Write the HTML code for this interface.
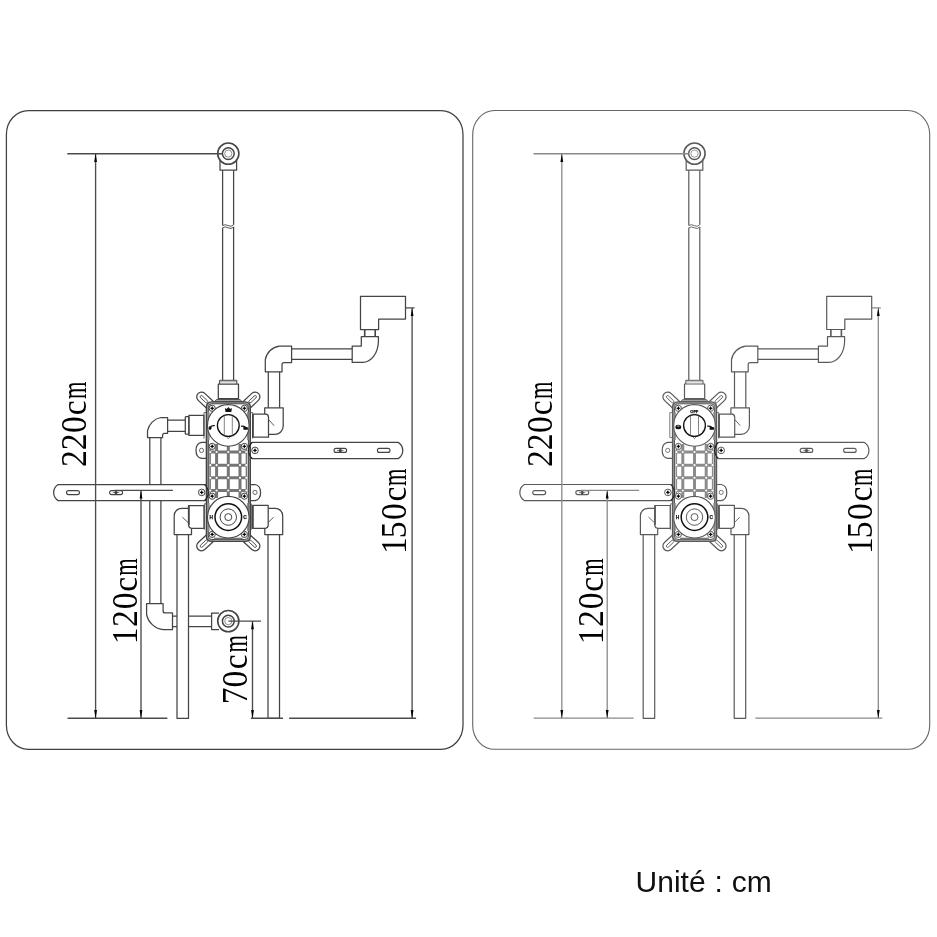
<!DOCTYPE html>
<html lang="fr">
<head>
<meta charset="utf-8">
<title>Unité : cm</title>
<style>
html,body{margin:0;padding:0;background:#fff;}
body{width:937px;height:937px;overflow:hidden;position:relative;}
svg{position:absolute;left:0;top:0;display:block;will-change:transform;}
.dim{font-family:"Liberation Serif","DejaVu Serif",serif;font-size:33.5px;fill:#000;}
.unit{position:absolute;left:635.6px;top:864.6px;word-spacing:0.6px;margin:0;font-family:"Liberation Sans","DejaVu Sans",sans-serif;font-size:30px;line-height:34px;color:#111;white-space:nowrap;}
</style>
</head>
<body>
<svg width="937" height="937" viewBox="0 0 937 937">
<rect x="0" y="0" width="937" height="937" fill="#fff"/>
<rect x="6.4" y="110.5" width="456.6" height="638.8" rx="22" ry="24" fill="none" stroke="#404040" stroke-width="1.25"/>
<rect x="472.7" y="110.5" width="457" height="638.8" rx="22" ry="24" fill="none" stroke="#666" stroke-width="1.1"/>
<g transform="translate(0,0)">
<g stroke="#444" stroke-width="1.25" fill="none" stroke-linejoin="round">
<path d="M220,160V170.2H236.6V160"/>
<circle cx="228.3" cy="153.6" r="10.6" stroke-width="1.6" fill="#fff"/>
<circle cx="228.3" cy="153.6" r="5.9" stroke-width="1.5"/>
<circle cx="228.3" cy="153.6" r="3.6" stroke-width="0.6"/>
<path d="M222.6,170.2V225.6 M233.6,170.2V224.8 M222.6,227.8V380 M233.6,227V380"/>
<path d="M222.6,225.6q2.5,-1.8 5.5,0t5.5,-0.8 M222.6,227.8q2.5,-1.8 5.5,0t5.5,-0.8" stroke-width="0.9"/>
<path d="M219.6,384V380.3H236.8V384" stroke-width="1"/>
<path d="M219.6,381.8H236.8" stroke-width="0.5"/>
<rect x="218.3" y="384" width="20.2" height="14.6"/>
<path d="M218,398.9H238.8" stroke-width="1.7"/>
<path d="M214.6,401.7L216.4,399.6H240.2L242,401.7Z" stroke-width="0.9" fill="#aaa"/>
<path d="M360.5,296.3H405.5V319.1H378.6V329.5H360.5Z"/>
<path d="M364.7,329.5V336.7 M375.2,329.5V336.7" stroke-width="1.6"/>
<path d="M361.3,336.7H378.4V341A15.8,21.4 0 0 1 362.6,362.4H352.2V346.1H361.3Z"/>
<path d="M291.6,348.8H352.2 M291.6,359.4H352.2"/>
<path d="M291.6,346.1H279.4A16.5,16.5 0 0 0 265.3,359.6V371.8H282V364.6Q282,362.6 284,362.6H291.6Z"/>
<path d="M268.3,371.8V407.8 M279.6,371.8V407.8"/>
<path d="M264.7,414.2V407.8H283.2V426A8.4,8.4 0 0 1 274.8,434.4H268.5"/>
<path d="M268.5,419.5L274.1,425.7" stroke-width="0.9"/>
<path d="M252.7,414.2H265.8Q268.5,414.4 268.5,417.4V437.2H252.7Z" fill="#fff"/>
<path d="M252.9,414.2V437.2" stroke-width="1.7"/>
<path d="M250.4,412.6H252.6V438.6"  stroke-width="0.8"/>
<path d="M252,442.4H398.2A9.5,9.5 0 0 1 398.2,458.6H252"/>
<rect x="377.4" y="448.4" width="12.6" height="4" rx="2" stroke-width="1.1"/>
<rect x="334" y="448.4" width="12.6" height="4" rx="2" stroke-width="1.1"/>
<circle cx="340.3" cy="450.4" r="1.5" fill="#333" stroke="none"/>
<path d="M337,450.4H343.6 M340.3,448V452.8" stroke-width="0.7"/>
<path d="M205,484.5H58.1A9.5,9.5 0 0 0 58.1,500.6H205"/>
<rect x="66.5" y="490.6" width="13" height="4" rx="2" stroke-width="1.1"/>
<rect x="109.6" y="490.6" width="13" height="4" rx="2" stroke-width="1.1"/>
<circle cx="116" cy="492.6" r="1.5" fill="#333" stroke="none"/>
<path d="M112.7,492.6H119.3 M116,490.2V495" stroke-width="0.7"/>
<path d="M188.5,508.3H181.6A7.4,7.4 0 0 0 174.2,515.7V534.6H191.5V528.3"/>
<path d="M177,534.6V718.3H188.5V534.6"/>
<path d="M182.3,517.1L188.5,522.9" stroke-width="0.9"/>
<path d="M204,505.5H188.6V525.3Q188.8,528.3 191.6,528.3H204Z" fill="#fff"/>
<path d="M188.8,505.5V525" stroke-width="1.8"/>
<path d="M206.2,503.8H204.4V529.8" stroke-width="0.8"/>
<path d="M268.3,508.3H275.3A7.4,7.4 0 0 1 282.7,515.7V534.6H264.8V528.3"/>
<path d="M268,534.6V718.3H279.5V534.6"/>
<path d="M273.6,517.1L268.3,522.4" stroke-width="0.9"/>
<path d="M252.6,505.4H268.2V525.3Q268,528.3 265.2,528.3H252.6Z" fill="#fff"/>
<path d="M252.8,505.4V528.3" stroke-width="1.8"/>
<path d="M250.4,503.8H251.4V529.8" stroke-width="0.8"/>
<path d="M147.5,437.6V430.8A17,17 0 0 1 160.8,417.5H167.6V433.3H164.4Q162.6,433.3 162.6,435.2V437.6Z"/>
<path d="M167.6,420.2H185.3 M167.6,431.3H185.3"/>
<path d="M149.8,437.6V484.5 M160.9,437.6V484.5 M149.8,500.6V603.5 M160.9,500.6V603.5"/>
<rect x="185.3" y="416.7" width="3.6" height="17.5" rx="0.8"/>
<rect x="188.9" y="415.4" width="15" height="20"/>
<path d="M206.2,412.6H204V438.6" stroke-width="0.8"/>
<path d="M146.6,603.5H163.1V610.9Q163.1,612.9 165.1,612.9H172.5V629.6H163.5A19,19 0 0 1 146.6,614.5Z"/>
<path d="M172.5,616.2H177 M172.5,626.5H177 M188.5,616.2H211.6 M188.5,626.5H211.6"/>
<path d="M219,613.1H211.6V629.6H219"/>
<circle cx="228.3" cy="621.1" r="10.6" stroke-width="1.6" fill="#fff"/>
<circle cx="228.3" cy="621.1" r="5.9" stroke-width="1.5"/>
<circle cx="228.3" cy="621.1" r="3.6" stroke-width="0.6"/>
<g transform="translate(201.5,396.9) rotate(43)"><path d="M14,-4.8H0A4.8,4.8 0 0 0 0,4.8H14" fill="#fff"/><rect x="-1.4" y="-1.25" width="9.4" height="2.5" rx="1.25" stroke-width="0.9"/></g>
<g transform="translate(255.1,396.9) rotate(137)"><path d="M14,-4.8H0A4.8,4.8 0 0 0 0,4.8H14" fill="#fff"/><rect x="-1.4" y="-1.25" width="9.4" height="2.5" rx="1.25" stroke-width="0.9"/></g>
<g transform="translate(201.5,546) rotate(-43)"><path d="M14,-4.8H0A4.8,4.8 0 0 0 0,4.8H14" fill="#fff"/><rect x="-1.4" y="-1.25" width="9.4" height="2.5" rx="1.25" stroke-width="0.9"/></g>
<g transform="translate(255.1,546) rotate(-137)"><path d="M14,-4.8H0A4.8,4.8 0 0 0 0,4.8H14" fill="#fff"/><rect x="-1.4" y="-1.25" width="9.4" height="2.5" rx="1.25" stroke-width="0.9"/></g>
<path d="M206.5,442.4H201.5Q196,443.5 196,450.4T201.5,458.4H206.5" fill="#fff"/>
<circle cx="201.5" cy="450.4" r="2.1" stroke-width="0.8"/>
<path d="M250,484.5H255Q260.6,485.6 260.6,492.4T255,500.6H250" fill="#fff"/>
<circle cx="255" cy="492.4" r="2.1" stroke-width="0.8"/>
<path d="M252,442.5Q249,443 248.5,447V454Q249,458 252,458.5" fill="#fff"/>
<path d="M205,484.5Q207.6,485 208,489V496Q207.6,500 205,500.6" fill="#fff"/>
<circle cx="255" cy="450.4" r="3.3" fill="#fff" stroke-width="1"/><circle cx="255" cy="450.4" r="1.1" fill="#000" stroke="none"/><path d="M253.1,450.4H256.9 M255,448.5V452.29999999999995" stroke="#000" stroke-width="0.9"/>
<circle cx="201.7" cy="492.4" r="3.3" fill="#fff" stroke-width="1"/><circle cx="201.7" cy="492.4" r="1.1" fill="#000" stroke="none"/><path d="M199.79999999999998,492.4H203.6 M201.7,490.5V494.29999999999995" stroke="#000" stroke-width="0.9"/>
<rect x="206.4" y="401.9" width="43.9" height="139.5" rx="5" fill="#a8a8a8" stroke-width="1.4"/>
<rect x="208.3" y="403.8" width="40.1" height="135.7" rx="3.6" fill="#fff" stroke-width="1"/>
<path d="M208.8,412V440 M247.9,412V440 M208.8,503V531 M247.9,503V531" stroke="#8a8a8a" stroke-width="1.6"/>
<path d="M214,538.6H242.6" stroke="#777" stroke-width="1.8"/>
<g stroke="#757575" stroke-width="3" fill="none">
<path d="M209.4,452H247.2 M209.4,465.2H247.2 M209.4,477.8H247.2 M209.4,490.5H247.2"/>
<path d="M216.6,444V498 M228.3,444V498 M240,444V498"/>
<path d="M210.1,449V494 M246.5,449V494" stroke-width="1.6"/>
</g>
<g fill="#fff" stroke="none">
<circle cx="210.3" cy="452" r="1.1"/>
<circle cx="216.6" cy="452" r="1.1"/>
<circle cx="228.3" cy="452" r="1.1"/>
<circle cx="240" cy="452" r="1.1"/>
<circle cx="246.3" cy="452" r="1.1"/>
<circle cx="210.3" cy="465.2" r="1.1"/>
<circle cx="216.6" cy="465.2" r="1.1"/>
<circle cx="228.3" cy="465.2" r="1.1"/>
<circle cx="240" cy="465.2" r="1.1"/>
<circle cx="246.3" cy="465.2" r="1.1"/>
<circle cx="210.3" cy="477.8" r="1.1"/>
<circle cx="216.6" cy="477.8" r="1.1"/>
<circle cx="228.3" cy="477.8" r="1.1"/>
<circle cx="240" cy="477.8" r="1.1"/>
<circle cx="246.3" cy="477.8" r="1.1"/>
<circle cx="210.3" cy="490.5" r="1.1"/>
<circle cx="216.6" cy="490.5" r="1.1"/>
<circle cx="228.3" cy="490.5" r="1.1"/>
<circle cx="240" cy="490.5" r="1.1"/>
<circle cx="246.3" cy="490.5" r="1.1"/>
</g>
<circle cx="212.2" cy="408.3" r="3.1" fill="#fff" stroke-width="1"/><circle cx="212.2" cy="408.3" r="1.1" fill="#000" stroke="none"/><path d="M210.29999999999998,408.3H214.1 M212.2,406.40000000000003V410.2" stroke="#000" stroke-width="0.9"/>
<circle cx="244.4" cy="408.3" r="3.1" fill="#fff" stroke-width="1"/><circle cx="244.4" cy="408.3" r="1.1" fill="#000" stroke="none"/><path d="M242.5,408.3H246.3 M244.4,406.40000000000003V410.2" stroke="#000" stroke-width="0.9"/>
<circle cx="212.2" cy="446.4" r="3.1" fill="#fff" stroke-width="1"/><circle cx="212.2" cy="446.4" r="1.1" fill="#000" stroke="none"/><path d="M210.29999999999998,446.4H214.1 M212.2,444.5V448.29999999999995" stroke="#000" stroke-width="0.9"/>
<circle cx="244.4" cy="446.4" r="3.1" fill="#fff" stroke-width="1"/><circle cx="244.4" cy="446.4" r="1.1" fill="#000" stroke="none"/><path d="M242.5,446.4H246.3 M244.4,444.5V448.29999999999995" stroke="#000" stroke-width="0.9"/>
<circle cx="212.2" cy="496.2" r="3.1" fill="#fff" stroke-width="1"/><circle cx="212.2" cy="496.2" r="1.1" fill="#000" stroke="none"/><path d="M210.29999999999998,496.2H214.1 M212.2,494.3V498.09999999999997" stroke="#000" stroke-width="0.9"/>
<circle cx="244.4" cy="496.2" r="3.1" fill="#fff" stroke-width="1"/><circle cx="244.4" cy="496.2" r="1.1" fill="#000" stroke="none"/><path d="M242.5,496.2H246.3 M244.4,494.3V498.09999999999997" stroke="#000" stroke-width="0.9"/>
<circle cx="212.2" cy="534.4" r="3.1" fill="#fff" stroke-width="1"/><circle cx="212.2" cy="534.4" r="1.1" fill="#000" stroke="none"/><path d="M210.29999999999998,534.4H214.1 M212.2,532.5V536.3" stroke="#000" stroke-width="0.9"/>
<circle cx="244.4" cy="534.4" r="3.1" fill="#fff" stroke-width="1"/><circle cx="244.4" cy="534.4" r="1.1" fill="#000" stroke="none"/><path d="M242.5,534.4H246.3 M244.4,532.5V536.3" stroke="#000" stroke-width="0.9"/>
<path d="M204.6,484.6Q208.2,487.6 208.2,492.5T204.6,500.5" stroke="#222" stroke-width="1.2"/>
<path d="M252.2,442.5Q248.6,445.5 248.6,450.5T252.2,458.5" stroke="#222" stroke-width="1.2"/>
<circle cx="228.3" cy="425.4" r="20.8" fill="#fff" stroke-width="1.1"/>
<circle cx="228.3" cy="425.5" r="10.9" fill="#fff" stroke-width="1.3" stroke="#111"/>
<path d="M224.3,415.6V435.4 M232.3,415.6V435.4" stroke-width="0.8" stroke="#666"/>
<path d="M226.6,437L228.3,438.6L230,437" stroke-width="0.8"/>
<circle cx="228.3" cy="517.2" r="20.8" fill="#fff" stroke-width="1.1"/>
<circle cx="228.3" cy="517.1" r="13.3" stroke-width="1.5" stroke="#111"/>
<circle cx="228.3" cy="517.1" r="8.2" stroke-width="1"/>
<circle cx="228.3" cy="517.1" r="3.5" stroke-width="1"/>
</g>
<g fill="#111" stroke="#111" stroke-width="0" stroke-linecap="round">
<path d="M225.5,412L224.9,408.1L226.7,409.1L228.4,407L230.1,409.1L231.9,408.1L231.3,412Z"/>
<ellipse cx="210.1" cy="428.1" rx="1.5" ry="1.8" transform="rotate(20 210.1 428.1)"/>
<path d="M210.4,427.2Q211,425.5 214.4,425.6" fill="none" stroke-width="1.2"/>
<path d="M243.4,427h3.4q1.1,0 1.1,1.1v1.7h-4.5z"/>
<path d="M241.5,426.1Q244,425.9 245.4,427.2" fill="none" stroke-width="1.2"/>
</g>
<g stroke="#4c4c4c" stroke-width="1.35" fill="none">
<path d="M67.3,153.75H222.4 M95.6,153.75V718.2 M67.5,718.2H167.4 M114.5,490.3H172.9 M141,490.2V718.2 M289.1,718.2H416.1 M405.5,307.9H414.6 M412.1,307.9V718.2"/>
</g>
<g fill="#000" stroke="none">
<path d="M95.6,153.75l-1.4,8.2h2.8z M95.6,718.2l-1.4,-8.2h2.8z"/>
<path d="M141,490.2l-1.4,8.2h2.8z M141,718.2l-1.4,-8.2h2.8z"/>
<path d="M412.1,307.9l-1.4,8.2h2.8z M412.1,718.2l-1.4,-8.2h2.8z"/>
</g>
<g stroke="#4c4c4c" stroke-width="1.35" fill="none"><path d="M228.3,621.1H261 M252.5,621.1V718.2 M250.9,718.2H283"/></g>
<path d="M252.5,621.1l-1.4,8.2h2.8z M252.5,718.2l-1.4,-8.2h2.8z" fill="#000"/>
<g class="dim">
<text transform="translate(86.0,466.91) rotate(-90) scale(1,1.04)"><tspan x="-0.0 16.7 33.93 51.59">220c</tspan><tspan x="67.97" textLength="17.38" lengthAdjust="spacingAndGlyphs">m</tspan></text>
<text transform="translate(136.8,644.34) rotate(-90) scale(1,1.04)"><tspan x="0.0 17.44 34.97 52.52">120c</tspan><tspan x="68.61" textLength="17.38" lengthAdjust="spacingAndGlyphs">m</tspan></text>
<text transform="translate(246.6,704.28) rotate(-90) scale(1,1.04)"><tspan x="-0.0 16.9 35.06">70c</tspan><tspan x="51.74" textLength="17.38" lengthAdjust="spacingAndGlyphs">m</tspan></text>
<text transform="translate(406.0,554.04) rotate(-90) scale(1,1.04)"><tspan x="0.0 15.87 33.97 52.62">150c</tspan><tspan x="68.11" textLength="17.38" lengthAdjust="spacingAndGlyphs">m</tspan></text>
</g>
<g font-family="Liberation Sans, sans-serif" font-weight="700" font-size="4.8" fill="#111" stroke="#111" stroke-width="0.25" text-anchor="middle">
<text x="211.3" y="518.8">H</text><text x="245.1" y="518.8">C</text>
</g>
</g>
<g transform="translate(466.2,0)">
<g stroke="#5a5a5a" stroke-width="1.2" fill="none" stroke-linejoin="round">
<path d="M220,160V170.2H236.6V160"/>
<circle cx="228.3" cy="153.6" r="10.6" stroke-width="1.6" fill="#fff"/>
<circle cx="228.3" cy="153.6" r="5.9" stroke-width="1.5"/>
<circle cx="228.3" cy="153.6" r="3.6" stroke-width="0.6"/>
<path d="M222.6,170.2V225.6 M233.6,170.2V224.8 M222.6,227.8V380 M233.6,227V380"/>
<path d="M222.6,225.6q2.5,-1.8 5.5,0t5.5,-0.8 M222.6,227.8q2.5,-1.8 5.5,0t5.5,-0.8" stroke-width="0.9"/>
<path d="M219.6,384V380.3H236.8V384" stroke-width="1"/>
<path d="M219.6,381.8H236.8" stroke-width="0.5"/>
<rect x="218.3" y="384" width="20.2" height="14.6"/>
<path d="M218,398.9H238.8" stroke-width="1.7"/>
<path d="M214.6,401.7L216.4,399.6H240.2L242,401.7Z" stroke-width="0.9" fill="#aaa"/>
<path d="M360.5,296.3H405.5V319.1H378.6V329.5H360.5Z"/>
<path d="M364.7,329.5V336.7 M375.2,329.5V336.7" stroke-width="1.6"/>
<path d="M361.3,336.7H378.4V341A15.8,21.4 0 0 1 362.6,362.4H352.2V346.1H361.3Z"/>
<path d="M291.6,348.8H352.2 M291.6,359.4H352.2"/>
<path d="M291.6,346.1H279.4A16.5,16.5 0 0 0 265.3,359.6V371.8H282V364.6Q282,362.6 284,362.6H291.6Z"/>
<path d="M268.3,371.8V407.8 M279.6,371.8V407.8"/>
<path d="M264.7,414.2V407.8H283.2V426A8.4,8.4 0 0 1 274.8,434.4H268.5"/>
<path d="M268.5,419.5L274.1,425.7" stroke-width="0.9"/>
<path d="M252.7,414.2H265.8Q268.5,414.4 268.5,417.4V437.2H252.7Z" fill="#fff"/>
<path d="M252.9,414.2V437.2" stroke-width="1.7"/>
<path d="M250.4,412.6H252.6V438.6"  stroke-width="0.8"/>
<path d="M252,442.4H398.2A9.5,9.5 0 0 1 398.2,458.6H252"/>
<rect x="377.4" y="448.4" width="12.6" height="4" rx="2" stroke-width="1.1"/>
<rect x="334" y="448.4" width="12.6" height="4" rx="2" stroke-width="1.1"/>
<circle cx="340.3" cy="450.4" r="1.5" fill="#333" stroke="none"/>
<path d="M337,450.4H343.6 M340.3,448V452.8" stroke-width="0.7"/>
<path d="M205,484.5H58.1A9.5,9.5 0 0 0 58.1,500.6H205"/>
<rect x="66.5" y="490.6" width="13" height="4" rx="2" stroke-width="1.1"/>
<rect x="109.6" y="490.6" width="13" height="4" rx="2" stroke-width="1.1"/>
<circle cx="116" cy="492.6" r="1.5" fill="#333" stroke="none"/>
<path d="M112.7,492.6H119.3 M116,490.2V495" stroke-width="0.7"/>
<path d="M188.5,508.3H181.6A7.4,7.4 0 0 0 174.2,515.7V534.6H191.5V528.3"/>
<path d="M177,534.6V718.3H188.5V534.6"/>
<path d="M182.3,517.1L188.5,522.9" stroke-width="0.9"/>
<path d="M204,505.5H188.6V525.3Q188.8,528.3 191.6,528.3H204Z" fill="#fff"/>
<path d="M188.8,505.5V525" stroke-width="1.8"/>
<path d="M206.2,503.8H204.4V529.8" stroke-width="0.8"/>
<path d="M268.3,508.3H275.3A7.4,7.4 0 0 1 282.7,515.7V534.6H264.8V528.3"/>
<path d="M268,534.6V718.3H279.5V534.6"/>
<path d="M273.6,517.1L268.3,522.4" stroke-width="0.9"/>
<path d="M252.6,505.4H268.2V525.3Q268,528.3 265.2,528.3H252.6Z" fill="#fff"/>
<path d="M252.8,505.4V528.3" stroke-width="1.8"/>
<path d="M250.4,503.8H251.4V529.8" stroke-width="0.8"/>
<path d="M206.2,412.6H203.6V437.6H206.2" stroke-width="0.8"/>
<g transform="translate(201.5,396.9) rotate(43)"><path d="M14,-4.8H0A4.8,4.8 0 0 0 0,4.8H14" fill="#fff"/><rect x="-1.4" y="-1.25" width="9.4" height="2.5" rx="1.25" stroke-width="0.9"/></g>
<g transform="translate(255.1,396.9) rotate(137)"><path d="M14,-4.8H0A4.8,4.8 0 0 0 0,4.8H14" fill="#fff"/><rect x="-1.4" y="-1.25" width="9.4" height="2.5" rx="1.25" stroke-width="0.9"/></g>
<g transform="translate(201.5,546) rotate(-43)"><path d="M14,-4.8H0A4.8,4.8 0 0 0 0,4.8H14" fill="#fff"/><rect x="-1.4" y="-1.25" width="9.4" height="2.5" rx="1.25" stroke-width="0.9"/></g>
<g transform="translate(255.1,546) rotate(-137)"><path d="M14,-4.8H0A4.8,4.8 0 0 0 0,4.8H14" fill="#fff"/><rect x="-1.4" y="-1.25" width="9.4" height="2.5" rx="1.25" stroke-width="0.9"/></g>
<path d="M206.5,442.4H201.5Q196,443.5 196,450.4T201.5,458.4H206.5" fill="#fff"/>
<circle cx="201.5" cy="450.4" r="2.1" stroke-width="0.8"/>
<path d="M250,484.5H255Q260.6,485.6 260.6,492.4T255,500.6H250" fill="#fff"/>
<circle cx="255" cy="492.4" r="2.1" stroke-width="0.8"/>
<path d="M252,442.5Q249,443 248.5,447V454Q249,458 252,458.5" fill="#fff"/>
<path d="M205,484.5Q207.6,485 208,489V496Q207.6,500 205,500.6" fill="#fff"/>
<circle cx="255" cy="450.4" r="3.3" fill="#fff" stroke-width="1"/><circle cx="255" cy="450.4" r="1.1" fill="#000" stroke="none"/><path d="M253.1,450.4H256.9 M255,448.5V452.29999999999995" stroke="#000" stroke-width="0.9"/>
<circle cx="201.7" cy="492.4" r="3.3" fill="#fff" stroke-width="1"/><circle cx="201.7" cy="492.4" r="1.1" fill="#000" stroke="none"/><path d="M199.79999999999998,492.4H203.6 M201.7,490.5V494.29999999999995" stroke="#000" stroke-width="0.9"/>
<rect x="206.4" y="401.9" width="43.9" height="139.5" rx="5" fill="#a8a8a8" stroke-width="1.4"/>
<rect x="208.3" y="403.8" width="40.1" height="135.7" rx="3.6" fill="#fff" stroke-width="1"/>
<path d="M208.8,412V440 M247.9,412V440 M208.8,503V531 M247.9,503V531" stroke="#8a8a8a" stroke-width="1.6"/>
<path d="M214,538.6H242.6" stroke="#777" stroke-width="1.8"/>
<g stroke="#8c8c8c" stroke-width="3" fill="none">
<path d="M209.4,452H247.2 M209.4,465.2H247.2 M209.4,477.8H247.2 M209.4,490.5H247.2"/>
<path d="M216.6,444V498 M228.3,444V498 M240,444V498"/>
<path d="M210.1,449V494 M246.5,449V494" stroke-width="1.6"/>
</g>
<g fill="#fff" stroke="none">
<circle cx="210.3" cy="452" r="1.1"/>
<circle cx="216.6" cy="452" r="1.1"/>
<circle cx="228.3" cy="452" r="1.1"/>
<circle cx="240" cy="452" r="1.1"/>
<circle cx="246.3" cy="452" r="1.1"/>
<circle cx="210.3" cy="465.2" r="1.1"/>
<circle cx="216.6" cy="465.2" r="1.1"/>
<circle cx="228.3" cy="465.2" r="1.1"/>
<circle cx="240" cy="465.2" r="1.1"/>
<circle cx="246.3" cy="465.2" r="1.1"/>
<circle cx="210.3" cy="477.8" r="1.1"/>
<circle cx="216.6" cy="477.8" r="1.1"/>
<circle cx="228.3" cy="477.8" r="1.1"/>
<circle cx="240" cy="477.8" r="1.1"/>
<circle cx="246.3" cy="477.8" r="1.1"/>
<circle cx="210.3" cy="490.5" r="1.1"/>
<circle cx="216.6" cy="490.5" r="1.1"/>
<circle cx="228.3" cy="490.5" r="1.1"/>
<circle cx="240" cy="490.5" r="1.1"/>
<circle cx="246.3" cy="490.5" r="1.1"/>
</g>
<circle cx="212.2" cy="408.3" r="3.1" fill="#fff" stroke-width="1"/><circle cx="212.2" cy="408.3" r="1.1" fill="#000" stroke="none"/><path d="M210.29999999999998,408.3H214.1 M212.2,406.40000000000003V410.2" stroke="#000" stroke-width="0.9"/>
<circle cx="244.4" cy="408.3" r="3.1" fill="#fff" stroke-width="1"/><circle cx="244.4" cy="408.3" r="1.1" fill="#000" stroke="none"/><path d="M242.5,408.3H246.3 M244.4,406.40000000000003V410.2" stroke="#000" stroke-width="0.9"/>
<circle cx="212.2" cy="446.4" r="3.1" fill="#fff" stroke-width="1"/><circle cx="212.2" cy="446.4" r="1.1" fill="#000" stroke="none"/><path d="M210.29999999999998,446.4H214.1 M212.2,444.5V448.29999999999995" stroke="#000" stroke-width="0.9"/>
<circle cx="244.4" cy="446.4" r="3.1" fill="#fff" stroke-width="1"/><circle cx="244.4" cy="446.4" r="1.1" fill="#000" stroke="none"/><path d="M242.5,446.4H246.3 M244.4,444.5V448.29999999999995" stroke="#000" stroke-width="0.9"/>
<circle cx="212.2" cy="496.2" r="3.1" fill="#fff" stroke-width="1"/><circle cx="212.2" cy="496.2" r="1.1" fill="#000" stroke="none"/><path d="M210.29999999999998,496.2H214.1 M212.2,494.3V498.09999999999997" stroke="#000" stroke-width="0.9"/>
<circle cx="244.4" cy="496.2" r="3.1" fill="#fff" stroke-width="1"/><circle cx="244.4" cy="496.2" r="1.1" fill="#000" stroke="none"/><path d="M242.5,496.2H246.3 M244.4,494.3V498.09999999999997" stroke="#000" stroke-width="0.9"/>
<circle cx="212.2" cy="534.4" r="3.1" fill="#fff" stroke-width="1"/><circle cx="212.2" cy="534.4" r="1.1" fill="#000" stroke="none"/><path d="M210.29999999999998,534.4H214.1 M212.2,532.5V536.3" stroke="#000" stroke-width="0.9"/>
<circle cx="244.4" cy="534.4" r="3.1" fill="#fff" stroke-width="1"/><circle cx="244.4" cy="534.4" r="1.1" fill="#000" stroke="none"/><path d="M242.5,534.4H246.3 M244.4,532.5V536.3" stroke="#000" stroke-width="0.9"/>
<path d="M204.6,484.6Q208.2,487.6 208.2,492.5T204.6,500.5" stroke="#222" stroke-width="1.2"/>
<path d="M252.2,442.5Q248.6,445.5 248.6,450.5T252.2,458.5" stroke="#222" stroke-width="1.2"/>
<circle cx="228.3" cy="425.4" r="20.8" fill="#fff" stroke-width="1.1"/>
<circle cx="228.3" cy="425.5" r="10.9" fill="#fff" stroke-width="1.3" stroke="#111"/>
<path d="M224.3,415.6V435.4 M232.3,415.6V435.4" stroke-width="0.8" stroke="#666"/>
<path d="M226.6,437L228.3,438.6L230,437" stroke-width="0.8"/>
<circle cx="228.3" cy="517.2" r="20.8" fill="#fff" stroke-width="1.1"/>
<circle cx="228.3" cy="517.1" r="13.3" stroke-width="1.5" stroke="#111"/>
<circle cx="228.3" cy="517.1" r="8.2" stroke-width="1"/>
<circle cx="228.3" cy="517.1" r="3.5" stroke-width="1"/>
</g>
<g fill="#111" stroke="#111" stroke-width="0" stroke-linecap="round">
<path d="M209.3,426.4q0,-1.7 2.8,-1.7t2.8,1.7v1.5q0,1.3 -2.8,1.3t-2.8,-1.3z"/>
<ellipse cx="212.1" cy="426.1" rx="1.5" ry="0.55" fill="#bbb"/>
<path d="M243.4,427h3.4q1.1,0 1.1,1.1v1.7h-4.5z"/>
<path d="M241.5,426.1Q244,425.9 245.4,427.2" fill="none" stroke-width="1.2"/>
</g>
<g stroke="#8a8a8a" stroke-width="1.3" fill="none">
<path d="M67.3,153.75H222.4 M95.6,153.75V718.2 M67.5,718.2H167.4 M114.5,490.3H172.9 M141,490.2V718.2 M289.1,718.2H416.1 M405.5,307.9H414.6 M412.1,307.9V718.2"/>
</g>
<g fill="#000" stroke="none">
<path d="M95.6,153.75l-1.4,8.2h2.8z M95.6,718.2l-1.4,-8.2h2.8z"/>
<path d="M141,490.2l-1.4,8.2h2.8z M141,718.2l-1.4,-8.2h2.8z"/>
<path d="M412.1,307.9l-1.4,8.2h2.8z M412.1,718.2l-1.4,-8.2h2.8z"/>
</g>
<g class="dim">
<text transform="translate(86.0,466.91) rotate(-90) scale(1,1.04)"><tspan x="-0.0 16.7 33.93 51.59">220c</tspan><tspan x="67.97" textLength="17.38" lengthAdjust="spacingAndGlyphs">m</tspan></text>
<text transform="translate(136.8,644.34) rotate(-90) scale(1,1.04)"><tspan x="0.0 17.44 34.97 52.52">120c</tspan><tspan x="68.61" textLength="17.38" lengthAdjust="spacingAndGlyphs">m</tspan></text>
<text transform="translate(406.0,554.04) rotate(-90) scale(1,1.04)"><tspan x="0.0 15.87 33.97 52.62">150c</tspan><tspan x="68.11" textLength="17.38" lengthAdjust="spacingAndGlyphs">m</tspan></text>
</g>
<g font-family="Liberation Sans, sans-serif" font-weight="700" font-size="4.8" fill="#111" stroke="#111" stroke-width="0.25" text-anchor="middle">
<text x="211.3" y="518.8">H</text><text x="245.1" y="518.8">C</text>
<text x="228.1" y="412.7" font-size="4">OFF</text>
</g>
</g>
</svg>
<p class="unit">Unité : cm</p>
</body>
</html>
